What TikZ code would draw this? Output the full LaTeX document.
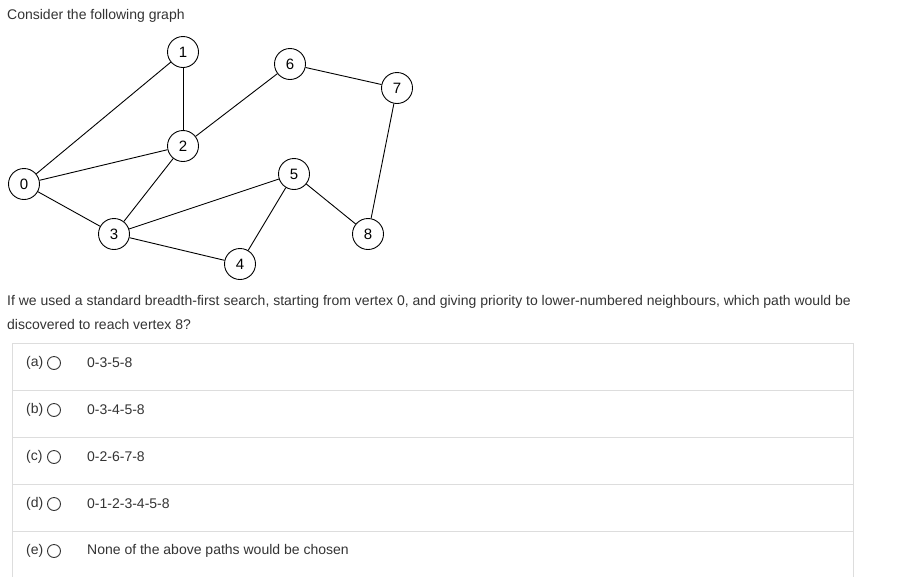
\documentclass[tikz,border=0pt]{standalone}
\usepackage{fontspec}
\setmainfont{Liberation Sans}
\definecolor{txt}{HTML}{333333}
\definecolor{bd}{HTML}{DDDDDD}
\begin{document}
\begin{tikzpicture}[x=1pt,y=-1pt,
  v/.style={circle,draw=black,line width=0.9pt,fill=white,minimum size=31pt,inner sep=0pt,font=\fontsize{15}{17}\selectfont},
  t/.style={anchor=west,text=txt,font=\fontsize{14}{17}\selectfont,inner sep=0pt},
  radio/.style={circle,draw=txt,minimum size=13pt,inner sep=0pt,line width=0.9pt}]
\useasboundingbox (0,0) rectangle (912,576);
\node[v] (n0) at (24,184) {0};
\node[v] (n1) at (183,52) {1};
\node[v] (n2) at (183,146) {2};
\node[v] (n3) at (114,234) {3};
\node[v] (n4) at (240,264) {4};
\node[v] (n5) at (294,174) {5};
\node[v] (n6) at (290,64) {6};
\node[v] (n7) at (397,88) {7};
\node[v] (n8) at (368,234) {8};
\foreach \a/\b in {n0/n1,n0/n2,n0/n3,n1/n2,n2/n3,n2/n6,n3/n5,n3/n4,n4/n5,n5/n8,n6/n7,n7/n8}
  \draw[line width=0.9pt] (\a) -- (\b);
\node[t] (title) at (7,16) {Consider the following graph};
\node[t] (q1) at (7,302) {If we used a standard breadth-first search, starting from vertex 0, and giving priority to lower-numbered neighbours, which path would be};
\node[t] (q2) at (7,324) {discovered to reach vertex 8?};
\draw[bd] (12,343) rectangle (853,580);
\foreach \y in {390,437,484,531} \draw[bd] (12,\y) -- (853,\y);
\foreach \l/\y/\s in {a/363/0-3-5-8,b/410/0-3-4-5-8,c/457/0-2-6-7-8,d/504/0-1-2-3-4-5-8,e/551/None of the above paths would be chosen}{
  \node[t] (l\l) at (26,\y) {(\l)};
  \node[radio] (r\l) at (54,\y) {};
  \node[t] (s\l) at (87,\y) {\s};
}
\end{tikzpicture}
\end{document}
